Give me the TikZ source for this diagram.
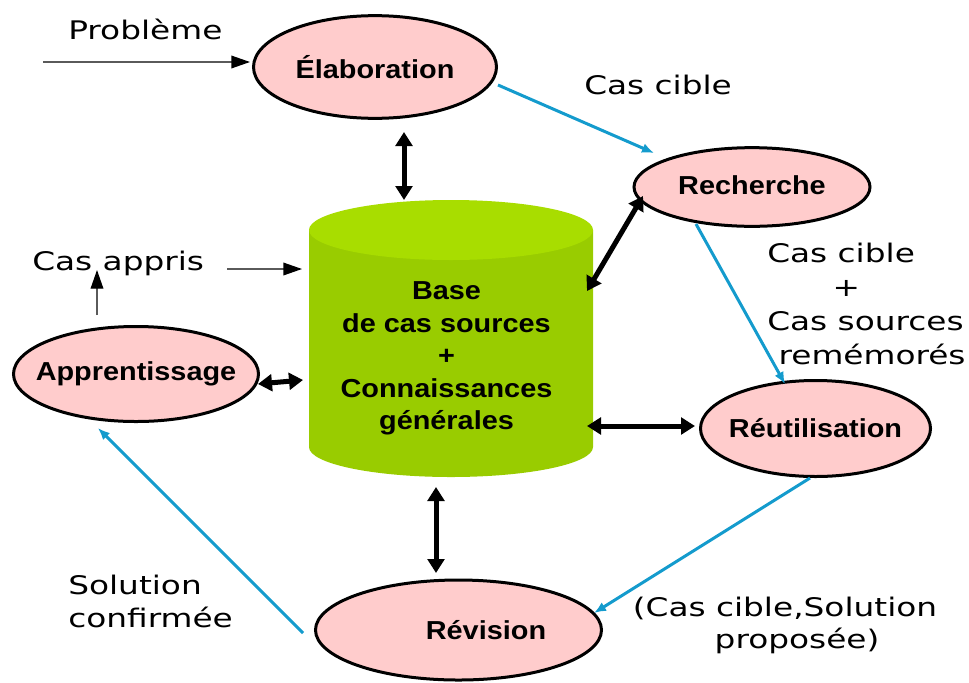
\documentclass[tikz,border=0pt]{standalone}
\usepackage{fontspec}
\setmainfont[FakeStretch=1.28]{DejaVu Sans}
\newfontfamily\lblfont[FakeStretch=1.11]{Liberation Sans}
\usetikzlibrary{arrows.meta,shapes.geometric}
\definecolor{pinkfill}{RGB}{255,204,204}
\definecolor{cylbody}{RGB}{153,204,0}
\definecolor{cyltop}{RGB}{168,221,0}
\definecolor{flowblue}{RGB}{20,155,205}
\definecolor{feedgray}{RGB}{90,90,90}
\begin{document}
\begin{tikzpicture}[x=0.75pt,y=-0.75pt,
  phase/.style={ellipse, draw=black, line width=2.25pt, fill=pinkfill, inner sep=0pt,
    font=\lblfont\bfseries\fontsize{19.5}{24}\selectfont},
  plain/.style={inner sep=0pt, font=\fontsize{19.2}{25.5}\selectfont},
  flow/.style={draw=flowblue, line width=2.25pt, -{Latex[length=9pt,width=7.5pt]}},
  link/.style={draw=black, line width=3.75pt, {Triangle[length=10.5pt,width=12.5pt]}-{Triangle[length=10.5pt,width=12.5pt]}},
  feed/.style={draw=feedgray, line width=1pt, -{Triangle[length=14pt,width=9.5pt,color=black]}}
]
\useasboundingbox (0,0) rectangle (969,682);

% cylinder
\fill[cylbody] (309,230) -- (309,447) arc[start angle=180,end angle=0,x radius=142,y radius=30] -- (593,230) -- cycle;
\fill[cyltop] (451,230) ellipse [x radius=142, y radius=30];
\node[inner sep=0pt, align=center, font=\lblfont\bfseries\fontsize{19.5}{24.4}\selectfont] (db) at (446.5,358.5)
  {Base\\de cas sources\\+\\Connaissances\\générales};

% phases
\node[phase, minimum width=182.25pt, minimum height=77pt] (elab) at (375,67) {\makebox[0pt]{Élaboration}};
\node[phase, minimum width=177pt, minimum height=59pt] (rech) at (752,187) {\makebox[0pt]{\raisebox{3pt}{Recherche}}};
\node[phase, minimum width=172.5pt, minimum height=72pt] (reut) at (815.5,428.5) {\makebox[0pt]{Réutilisation}};
\node[phase, minimum width=183.75pt, minimum height=71.25pt] (appr) at (136,374) {\makebox[0pt]{Apprentissage}};
\node[phase, minimum width=214.5pt, minimum height=75pt] (rev) at (458.5,630) {\makebox[0pt]{\hspace*{41.25pt}Révision}};

% connector end points
\coordinate (elabS) at (404,132);  \coordinate (dbN) at (404,200);
\coordinate (rechSW) at (643,196); \coordinate (dbNE) at (587,291);
\coordinate (apprE) at (258,384);  \coordinate (dbW) at (303,380);
\coordinate (dbE) at (587,426);    \coordinate (reutW) at (695,426);
\coordinate (dbS) at (436,487);    \coordinate (revN) at (436,573);
\coordinate (probS) at (43,62);    \coordinate (elabW) at (250,62);
\coordinate (apprS) at (227,269);  \coordinate (dbNW) at (302,269);
\coordinate (apprN) at (97,315);   \coordinate (apprT) at (97,270);
\coordinate (elabE) at (498,85);   \coordinate (rechW) at (654,153);
\coordinate (rechS) at (696,224);  \coordinate (reutN) at (785,384);
\coordinate (reutS) at (810,478);  \coordinate (revE) at (594,613);
\coordinate (revW) at (303,633);   \coordinate (apprB) at (98,428);

% links with the base
\draw[link] (elabS) -- (dbN);
\draw[link] (rechSW) -- (dbNE);
\draw[link] (apprE) -- (dbW);
\draw[link] (dbE) -- (reutW);
\draw[link] (dbS) -- (revN);

% thin arrows
\draw[feed] (probS) -- (elabW);
\draw[feed] (apprS) -- (dbNW);
\draw[feed] (apprN) -- (apprT);

% cycle
\draw[flow] (elabE) -- (rechW);
\draw[flow] (rechS) -- (reutN);
\draw[flow] (reutS) -- (revE);
\draw[flow] (revW) -- (apprB);

% texts
\node[plain, anchor=base west] (tprob) at (68,39.5) {Problème};
\node[plain, anchor=base west] (tcible) at (584,94) {Cas cible};
\node[plain, anchor=base west] (tappris) at (32,270) {Cas appris};
\node[plain, anchor=north west, align=left] (trem) at (767,242.5)
  {Cas cible\\\hspace*{49pt}+\\Cas sources\\\hspace*{8.5pt}remémorés};
\node[plain, anchor=north west, align=left, font=\fontsize{19.2}{24.75}\selectfont] (tsol) at (68,574.5)
  {Solution\\confirmée};
\node[plain, anchor=north, align=center, font=\fontsize{19.2}{24}\selectfont] (tprop) at (785,596.5)
  {(Cas cible,Solution\\\hspace*{18pt}proposée)};
\end{tikzpicture}
\end{document}
